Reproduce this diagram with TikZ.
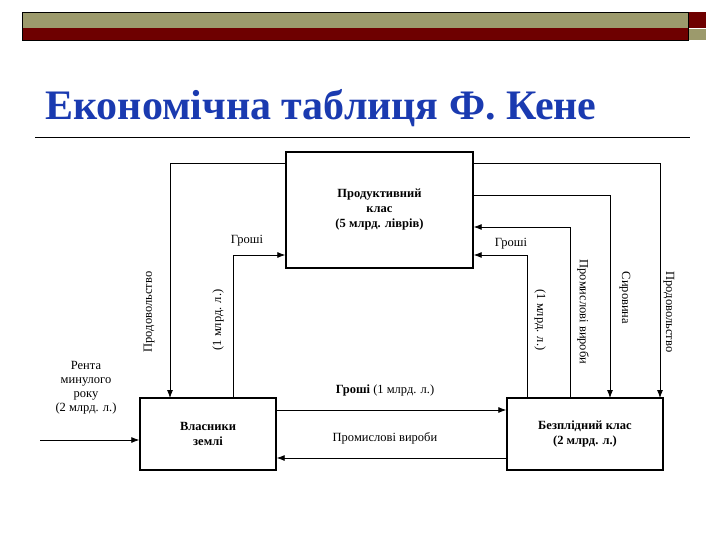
\documentclass[tikz,border=0pt]{standalone}
\usepackage{fontspec}
\setmainfont{Liberation Serif}
\usetikzlibrary{arrows.meta}
\definecolor{olive}{HTML}{9C9A6C}
\definecolor{dred}{HTML}{6E0000}
\definecolor{tblue}{HTML}{1A3AB0}
\begin{document}
\begin{tikzpicture}[x=1pt,y=-1pt,
  box/.style={draw,line width=1.4pt,fill=white,inner sep=0pt,font=\bfseries\fontsize{12.5}{15}\selectfont,align=center},
  conn/.style={draw,line width=0.8pt,-{Latex[length=8pt,width=6pt]}},
  lab/.style={font=\fontsize{12.5}{14}\selectfont,inner sep=1pt}]
\useasboundingbox (0,0) rectangle (720,540);
\fill[olive] (22,12) rectangle (688,28);
\fill[dred] (22,28) rectangle (688,40);
\draw (22,12) rectangle (688,40);
\fill[dred] (689,12) rectangle (706,28);
\fill[olive] (689,29) rectangle (706,40);
\node[anchor=base west,text=tblue,font=\bfseries\fontsize{42}{46}\selectfont,inner sep=0] (title) at (45,120) {Економічна таблиця Ф. Кене};
\draw[line width=0.7pt] (35,137) -- (690,137);
\node[box,minimum width=187pt,minimum height=116pt] (P) at (379.5,210) {Продуктивний\\клас\\(5 млрд. ліврів)};
\node[box,minimum width=136pt,minimum height=72pt] (V) at (208,434) {Власники\\землі};
\node[box,minimum width=156pt,minimum height=72pt] (B) at (585,434) {Безплідний клас\\(2 млрд. л.)};
\coordinate (r0) at (40,440);
\draw[conn] (r0) -- (V.west |- r0);
\node[lab,align=center] (rent) at (86,388) {Рента\\минулого\\року\\(2 млрд. л.)};
% left Продовольство
\draw[conn] (P.west |- 0,163) -| (170,398);
\node[lab,rotate=90] (l1) at (149,312) {Продовольство};
% right Продовольство
\draw[conn] (P.east |- 0,163) -| (660,398);
\node[lab,rotate=-90] (l2) at (669,312) {Продовольство};
% Сировина
\draw[conn] (P.east |- 0,195) -| (610,398);
\node[lab,rotate=-90] (l3) at (625,298) {Сировина};
% Промислові вироби
\draw[conn] (570,398) |- (P.east |- 0,227);
\node[lab,rotate=-90] (l4) at (583,312) {Промислові вироби};
% Гроші right
\draw[conn] (527,398) |- (P.east |- 0,255);
\node[lab] (l5) at (511,244) {Гроші};
\node[lab,rotate=-90] (l6) at (540,320) {(1 млрд. л.)};
% Гроші left
\draw[conn] (233,398) |- (P.west |- 0,255);
\node[lab] (l7) at (247,241) {Гроші};
\node[lab,rotate=90] (l8) at (218,320) {(1 млрд. л.)};
% bottom
\draw[conn] (V.east |- 0,410) -- (B.west |- 0,410);
\node[lab] (l9) at (385,390) {\textbf{Гроші} (1 млрд. л.)};
\draw[conn] (B.west |- 0,458) -- (V.east |- 0,458);
\node[lab] (l10) at (385,438) {Промислові вироби};
\end{tikzpicture}
\end{document}
